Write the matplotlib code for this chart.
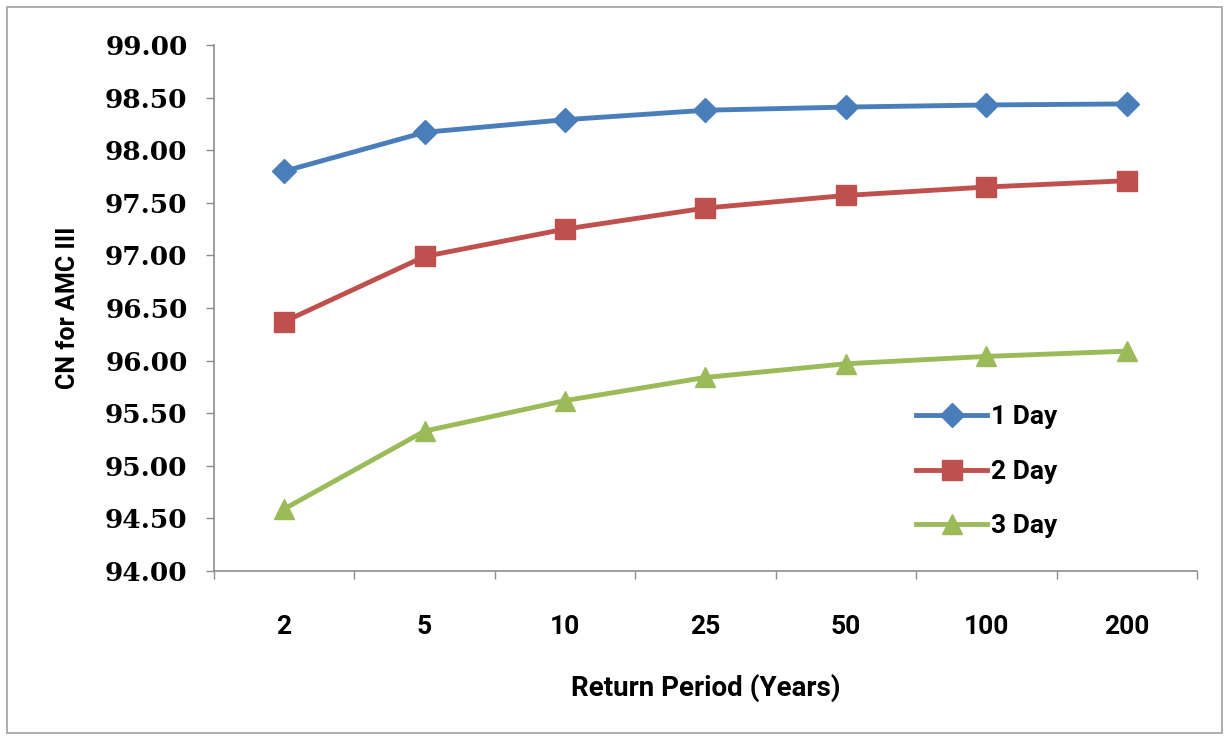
import numpy as np
import matplotlib
matplotlib.use("Agg")
import matplotlib.pyplot as plt
from matplotlib.patches import Rectangle

# Return periods and curve numbers per storm duration
periods = ["2", "5", "10", "25", "50", "100", "200"]
cn_1day = [97.80, 98.17, 98.29, 98.38, 98.41, 98.43, 98.44]
cn_2day = [96.37, 96.99, 97.25, 97.45, 97.57, 97.65, 97.71]
cn_3day = [94.59, 95.33, 95.62, 95.84, 95.97, 96.04, 96.09]
series_names = ["1 Day", "2 Day", "3 Day"]

colors = ["#4A7EBB", "#C0504D", "#9BBB59"]
markers = ["D", "s", "^"]
msizes = [12, 14, 14]

label_font = ["Roboto", "DejaVu Sans"]

fig = plt.figure(figsize=(12.29, 7.39), dpi=100)
fig.patch.set_facecolor("white")
fig.patches.append(Rectangle((0.006, 0.008), 0.988, 0.983, transform=fig.transFigure,
                             fill=False, edgecolor="#a0a0a0", linewidth=1.2))

ax = fig.add_axes([0.1741, 0.2273, 0.7998, 0.7118])
x = np.arange(len(periods))

for vals, name, c, m, ms in zip([cn_1day, cn_2day, cn_3day], series_names, colors, markers, msizes):
    ax.plot(x, vals, color=c, lw=3.5, marker=m, markersize=ms, label=name,
            markeredgecolor=c)

ax.set_xlim(-0.5, len(periods) - 0.5)
ax.set_ylim(94.0, 99.0)
yt = np.arange(94.0, 99.01, 0.5)
ax.set_yticks(yt)
ax.set_yticklabels([f"{v:.2f}" for v in yt],
                   family="DejaVu Serif", fontweight="bold", fontsize=19)

ax.set_xticks(x)
ax.set_xticklabels(periods, family=label_font, fontweight="bold", fontsize=19)
ax.set_xticks(np.arange(-0.5, len(periods)), minor=True)
ax.tick_params(axis="x", which="major", length=0, pad=32)
ax.tick_params(axis="x", which="minor", length=6, color="#8c8c8c", width=1)
ax.tick_params(axis="y", length=6, color="#8c8c8c", width=1, pad=13)

for side in ["top", "right"]:
    ax.spines[side].set_visible(False)
for side in ["left", "bottom"]:
    ax.spines[side].set_color("#8c8c8c")
    ax.spines[side].set_linewidth(1.2)

ax.set_xlabel("Return Period (Years)", family=label_font, fontweight="bold", fontsize=20)
ax.xaxis.set_label_coords(0.5, -0.195)
ax.set_ylabel("CN for AMC III", family=label_font, fontweight="bold", fontsize=18)
ax.yaxis.set_label_coords(-0.136, 0.5)

leg = ax.legend(loc="upper left", bbox_to_anchor=(0.69, 0.36), frameon=False,
                prop={"family": label_font, "weight": "bold", "size": 19},
                handlelength=2.7, handletextpad=0.15, labelspacing=1.15)

fig.savefig("out.png", dpi=100)
